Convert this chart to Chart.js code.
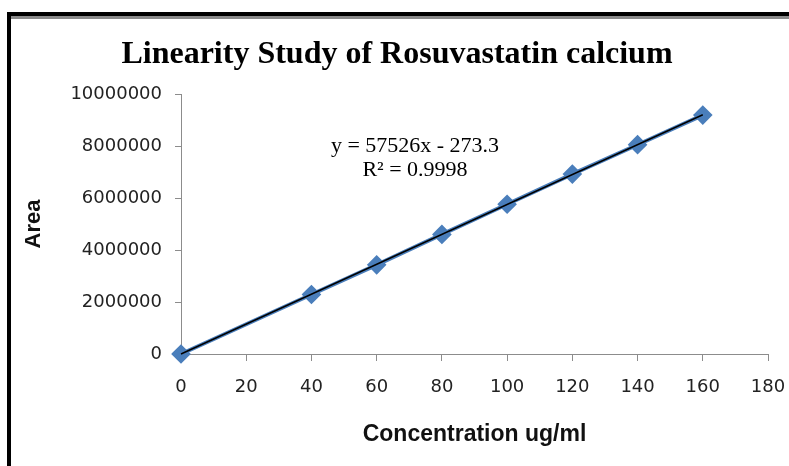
<!DOCTYPE html>
<html>
  <head>
    <title>Linearity Study of Rosuvastatin calcium</title>
    <script src="https://cdn.jsdelivr.net/npm/chart.js"></script>
    <style>
      body { margin: 0; background: #fff; }
      #wrap { position: relative; width: 789px; height: 466px; overflow: hidden; }
      #frame { position: absolute; left: 7px; top: 12px; width: 800px; height: 480px;
               border-top: 4px solid #000; border-left: 4px solid #000; }
      #frame2 { position: absolute; left: 11px; top: 16px; width: 800px; border-top: 3px solid #8a8a8a; }
      #myChart { position: absolute; left: 0; top: 0; }
    </style>
  </head>
  <body>
    <div id="wrap">
      <div id="frame"></div>
      <div id="frame2"></div>
      <canvas id="myChart" width="789" height="466"></canvas>
    </div>

    <script>
      // concentration (ug/ml) and peak area
      const concentrations = [0, 40, 60, 80, 100, 120, 140, 160];
      const areas = [0, 2290000, 3430000, 4600000, 5760000, 6920000, 8050000, 9190000];

      // linear trendline end points: y = 57526x - 273.3
      const trendX = [0, 160];
      const trendY = [-273.3, 9203886.7];

      const equationLines = ["y = 57526x - 273.3", "R\u00B2 = 0.9998"];

      const seriesPoints = concentrations.map((c, i) => ({ x: c, y: areas[i] }));
      const trendPoints = trendX.map((x, i) => ({ x: x, y: trendY[i] }));

      const equationLabel = {
        id: "equationLabel",
        afterDatasetsDraw(chart) {
          const { ctx, chartArea } = chart;
          const cx = chartArea.left + 234;
          ctx.save();
          ctx.fillStyle = "#000";
          ctx.font = "22px 'Liberation Serif', 'Times New Roman', serif";
          ctx.textAlign = "center";
          ctx.textBaseline = "alphabetic";
          ctx.fillText(equationLines[0], cx, chartArea.top + 58);
          ctx.fillText(equationLines[1], cx, chartArea.top + 82);
          ctx.restore();
        },
      };

      const axisColor = "#8c8c8c";
      const tickFont = { family: "'DejaVu Sans', sans-serif", size: 18 };

      const ctx = document.getElementById("myChart").getContext("2d");
      const myChart = new Chart(ctx, {
        type: "scatter",
        data: {
          datasets: [
            {
              label: "Trendline",
              data: trendPoints,
              showLine: true,
              borderColor: "#000",
              borderWidth: 1.5,
              pointRadius: 0,
              clip: false,
              order: 0,
            },
            {
              label: "Area",
              data: seriesPoints,
              showLine: true,
              borderColor: "#4a7ebb",
              borderWidth: 4,
              backgroundColor: "#4a7ebb",
              pointBackgroundColor: "#4a7ebb",
              pointBorderColor: "#4a7ebb",
              pointStyle: "rectRot",
              pointRadius: 7,
              clip: false,
              order: 1,
            },
          ],
        },
        options: {
          responsive: false,
          animation: false,
          layout: { padding: { left: 26, right: 21, top: 20, bottom: 16 } },
          plugins: {
            legend: { display: false },
            tooltip: { enabled: false },
            title: {
              display: true,
              text: "Linearity Study of Rosuvastatin calcium",
              color: "#000",
              font: { family: "'Liberation Serif', 'Times New Roman', serif", size: 32, weight: "bold" },
              padding: { top: 16, bottom: 19.6 },
            },
          },
          scales: {
            x: {
              type: "linear",
              min: 0,
              max: 180,
              ticks: { stepSize: 20, color: "#222", font: tickFont, padding: 16 },
              grid: { drawOnChartArea: false, drawTicks: true, tickLength: 7, color: axisColor },
              border: { display: true, color: axisColor },
              title: {
                display: true,
                text: "Concentration ug/ml",
                color: "#111",
                font: { family: "'Liberation Sans', Arial, sans-serif", size: 23, weight: "bold" },
                padding: { top: 4, bottom: 2 },
              },
              afterFit(scale) {
                scale.height = 96;
                scale.paddingLeft = 0;
                scale.paddingRight = 0;
              },
            },
            y: {
              type: "linear",
              min: 0,
              max: 10000000,
              ticks: {
                stepSize: 2000000,
                color: "#222",
                font: tickFont,
                padding: 13,
                callback: (v) => String(v),
              },
              grid: { drawOnChartArea: false, drawTicks: true, tickLength: 6, color: axisColor },
              border: { display: true, color: axisColor },
              title: {
                display: true,
                text: "Area",
                color: "#111",
                font: { family: "'Liberation Sans', Arial, sans-serif", size: 22, weight: "bold" },
                padding: { top: -5, bottom: 4 },
              },
              afterFit(scale) { scale.width = 155; },
            },
          },
        },
        plugins: [equationLabel],
      });
    </script>
  </body>
</html>
